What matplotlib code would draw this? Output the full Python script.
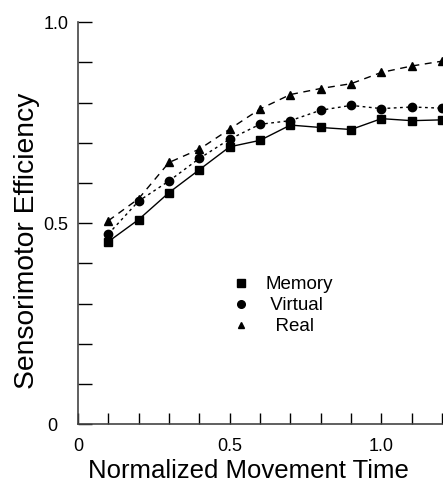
import matplotlib
matplotlib.use('Agg')
import matplotlib.pyplot as plt
from matplotlib.lines import Line2D

plt.rcParams['font.family'] = ['Liberation Sans', 'DejaVu Sans']

# Normalized movement time
mt = [0.1, 0.2, 0.3, 0.4, 0.5, 0.6, 0.7, 0.8, 0.9, 1.0, 1.1, 1.2]

# Sensorimotor efficiency per condition
memory = [0.454, 0.509, 0.576, 0.633, 0.690, 0.706, 0.744, 0.738, 0.733, 0.760, 0.755, 0.757]
virtual = [0.473, 0.555, 0.605, 0.661, 0.709, 0.746, 0.755, 0.781, 0.793, 0.785, 0.789, 0.786]
real = [0.506, 0.561, 0.651, 0.684, 0.734, 0.784, 0.820, 0.835, 0.847, 0.875, 0.891, 0.903]

labels = ['Memory', ' Virtual', '  Real']

fig = plt.figure(figsize=(4.43, 4.82), dpi=100)
ax = fig.add_axes([0.176, 0.120, 0.822, 0.834])

ax.plot(mt, memory, color='black', lw=1.0, ls='-', marker='s', ms=5.8, clip_on=False, zorder=3)
ax.plot(mt, virtual, color='black', lw=1.0, ls=(0, (2, 2.5)), marker='o', ms=6.0, clip_on=False, zorder=3)
ax.plot(mt, real, color='black', lw=1.0, ls=(0, (5, 4)), marker='^', ms=6.2, clip_on=False, zorder=3)

ax.set_xlim(0, 1.2)
ax.set_ylim(0, 1.0)
ax.set_xticks([0, 0.5, 1.0])
ax.set_xticklabels(['0', '0.5', '1.0'])
ax.set_xticks([i / 10 for i in range(13)], minor=True)
ax.set_yticks([0, 0.5, 1.0])
ax.set_yticklabels(['0  ', '0.5', '1.0'])
ax.set_yticks([i / 10 for i in range(11)], minor=True)

for side in ['top', 'right']:
    ax.spines[side].set_visible(False)
for side in ['left', 'bottom']:
    ax.spines[side].set_color('#444444')
    ax.spines[side].set_linewidth(1.2)

ax.tick_params(axis='y', which='both', direction='in', length=10, width=1, labelsize=13, pad=7)
ax.tick_params(axis='x', which='both', direction='in', length=8, width=1, labelsize=13, pad=10)

ax.set_xlabel('Normalized Movement Time', fontsize=18.5, va='baseline')
ax.xaxis.set_label_coords(0.468, -0.134)
ax.set_ylabel('Sensorimotor Efficiency', fontsize=20.3, va='center')
ax.yaxis.set_label_coords(-0.140, 0.455)

handles = [
    Line2D([], [], color='black', ls='none', marker='s', ms=5.5),
    Line2D([], [], color='black', ls='none', marker='o', ms=5.5),
    Line2D([], [], color='black', ls='none', marker='^', ms=4),
]
ax.legend(handles, labels, loc='upper left', bbox_to_anchor=(0.375, 0.41), frameon=False,
          fontsize=13.5, handlelength=1.0, handletextpad=0.8, labelspacing=0.2)

fig.savefig('out.png', dpi=100)
